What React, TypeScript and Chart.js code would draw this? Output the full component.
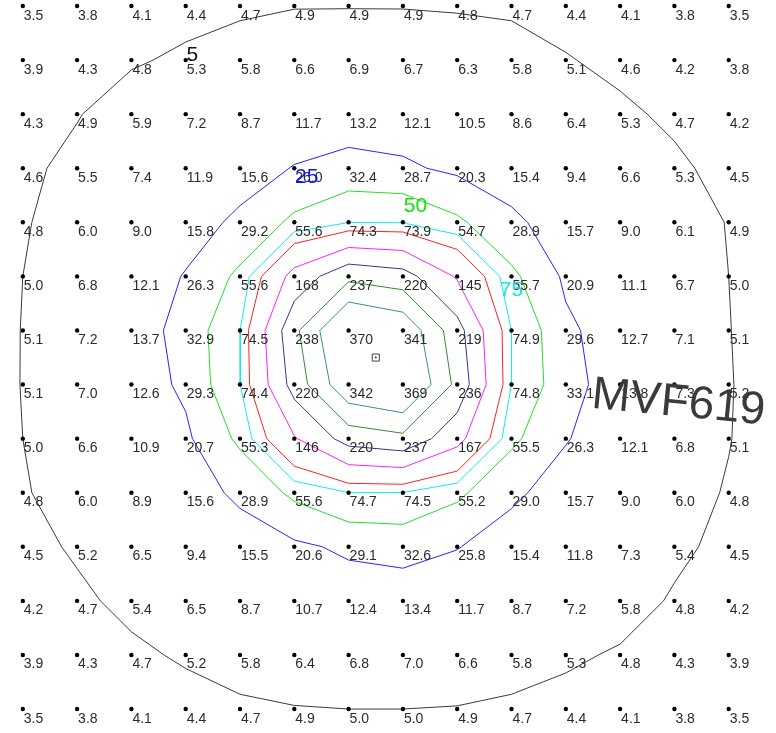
import React, { useEffect, useRef } from 'react';
import { Chart, registerables } from 'chart.js';

Chart.register(...registerables);

// grid values, row by row (top to bottom), 14 columns each
const R0 = [3.5, 3.8, 4.1, 4.4, 4.7, 4.9, 4.9, 4.9, 4.8, 4.7, 4.4, 4.1, 3.8, 3.5];
const R1 = [3.9, 4.3, 4.8, 5.3, 5.8, 6.6, 6.9, 6.7, 6.3, 5.8, 5.1, 4.6, 4.2, 3.8];
const R2 = [4.3, 4.9, 5.9, 7.2, 8.7, 11.7, 13.2, 12.1, 10.5, 8.6, 6.4, 5.3, 4.7, 4.2];
const R3 = [4.6, 5.5, 7.4, 11.9, 15.6, 26.0, 32.4, 28.7, 20.3, 15.4, 9.4, 6.6, 5.3, 4.5];
const R4 = [4.8, 6.0, 9.0, 15.8, 29.2, 55.6, 74.3, 73.9, 54.7, 28.9, 15.7, 9.0, 6.1, 4.9];
const R5 = [5.0, 6.8, 12.1, 26.3, 55.6, 168, 237, 220, 145, 55.7, 20.9, 11.1, 6.7, 5.0];
const R6 = [5.1, 7.2, 13.7, 32.9, 74.5, 238, 370, 341, 219, 74.9, 29.6, 12.7, 7.1, 5.1];
const R7 = [5.1, 7.0, 12.6, 29.3, 74.4, 220, 342, 369, 236, 74.8, 33.1, 13.8, 7.3, 5.2];
const R8 = [5.0, 6.6, 10.9, 20.7, 55.3, 146, 220, 237, 167, 55.5, 26.3, 12.1, 6.8, 5.1];
const R9 = [4.8, 6.0, 8.9, 15.6, 28.9, 55.6, 74.7, 74.5, 55.2, 29.0, 15.7, 9.0, 6.0, 4.8];
const R10 = [4.5, 5.2, 6.5, 9.4, 15.5, 20.6, 29.1, 32.6, 25.8, 15.4, 11.8, 7.3, 5.4, 4.5];
const R11 = [4.2, 4.7, 5.4, 6.5, 8.7, 10.7, 12.4, 13.4, 11.7, 8.7, 7.2, 5.8, 4.8, 4.2];
const R12 = [3.9, 4.3, 4.7, 5.2, 5.8, 6.4, 6.8, 7.0, 6.6, 5.8, 5.3, 4.8, 4.3, 3.9];
const R13 = [3.5, 3.8, 4.1, 4.4, 4.7, 4.9, 5.0, 5.0, 4.9, 4.7, 4.4, 4.1, 3.8, 3.5];
const GRID = [R0, R1, R2, R3, R4, R5, R6, R7, R8, R9, R10, R11, R12, R13];

// contour levels and colours
const CONTOUR_LEVELS = [5, 25, 50, 75, 100, 150, 200, 250, 300];
const CONTOUR_COLORS = ['#3a3a3a', '#2424ff', '#22e022', '#10ecec', '#ff2020', '#ff20ff', '#35358f', '#358a35', '#359090'];

// contour labels (grid column / row positions)
const LABEL_TEXT = ['5', '25', '50', '75'];
const LABEL_COL = [3.12, 5.23, 7.23, 9.0];
const LABEL_ROW = [0.89, 3.15, 3.68, 5.23];
const LABEL_COLORS = ['#111111', '#1010ff', '#10e010', '#10e8e8'];

// well
const WELL_NAME = 'MVF619';
const WELL_COL = [6.5];
const WELL_ROW = [6.5];
const WELL_LABEL_COL = 10.46;
const WELL_LABEL_ROW = 7.43;

type Pt = { x: number; y: number };

function contourPaths(grid: number[][], level: number): Pt[][] {
  const R = grid.length;
  const C = grid[0].length;
  const clamp = (v: number, a: number, b: number) => Math.max(a, Math.min(b, v));
  const val = (r: number, c: number) => {
    if (r >= 0 && r < R && c >= 0 && c < C) return grid[r][c];
    const rc = clamp(r, 0, R - 1);
    const cc = clamp(c, 0, C - 1);
    const ri = r < 0 ? 1 : r >= R ? R - 2 : rc;
    const ci = c < 0 ? 1 : c >= C ? C - 2 : cc;
    return 2 * grid[rc][cc] - grid[ri][ci];
  };
  const pts = new Map<string, Pt>();
  const adj = new Map<string, string[]>();
  const hPt = (r: number, c: number): Pt => {
    const a = val(r, c), b = val(r, c + 1);
    return { x: c + (level - a) / (b - a), y: r };
  };
  const vPt = (r: number, c: number): Pt => {
    const a = val(r, c), b = val(r + 1, c);
    return { x: c, y: r + (level - a) / (b - a) };
  };
  type E = [string, Pt];
  const link = (e1: E, e2: E) => {
    pts.set(e1[0], e1[1]);
    pts.set(e2[0], e2[1]);
    if (!adj.has(e1[0])) adj.set(e1[0], []);
    if (!adj.has(e2[0])) adj.set(e2[0], []);
    adj.get(e1[0])!.push(e2[0]);
    adj.get(e2[0])!.push(e1[0]);
  };
  for (let r = -1; r < R; r++) {
    for (let c = -1; c < C; c++) {
      const tl = val(r, c), tr = val(r, c + 1), br = val(r + 1, c + 1), bl = val(r + 1, c);
      const iTL = tl >= level, iTR = tr >= level, iBR = br >= level, iBL = bl >= level;
      const top: E | null = iTL !== iTR ? [`h${r}_${c}`, hPt(r, c)] : null;
      const right: E | null = iTR !== iBR ? [`v${r}_${c + 1}`, vPt(r, c + 1)] : null;
      const bottom: E | null = iBL !== iBR ? [`h${r + 1}_${c}`, hPt(r + 1, c)] : null;
      const left: E | null = iTL !== iBL ? [`v${r}_${c}`, vPt(r, c)] : null;
      const list = [top, right, bottom, left].filter(Boolean) as E[];
      if (list.length === 2) link(list[0], list[1]);
      else if (list.length === 4) {
        const centerIn = (tl + tr + br + bl) / 4 >= level;
        const cutIn = !centerIn;
        const corners: [boolean, E, E][] = [
          [iTL, left!, top!],
          [iTR, top!, right!],
          [iBR, right!, bottom!],
          [iBL, bottom!, left!],
        ];
        for (const [isIn, a, b] of corners) if (isIn === cutIn) link(a, b);
      }
    }
  }
  const visited = new Set<string>();
  const paths: Pt[][] = [];
  const walk = (start: string) => {
    const path: Pt[] = [pts.get(start)!];
    visited.add(start);
    let cur = start;
    for (;;) {
      const next = (adj.get(cur) || []).find((k) => !visited.has(k));
      if (!next) break;
      visited.add(next);
      path.push(pts.get(next)!);
      cur = next;
    }
    if (path.length > 2 && (adj.get(cur) || []).includes(start)) path.push(pts.get(start)!);
    return path;
  };
  for (const [k, n] of adj) if (n.length === 1 && !visited.has(k)) paths.push(walk(k));
  for (const k of adj.keys()) if (!visited.has(k)) paths.push(walk(k));
  return paths;
}

const fmt = (v: number) => (v >= 100 ? String(Math.round(v)) : v.toFixed(1));

const FONT = '"Liberation Sans", Arial, sans-serif';

const textPlugin = {
  id: 'gridText',
  afterDatasetsDraw(chart: any) {
    const { ctx, scales } = chart;
    const xs = scales.x;
    const ys = scales.y;
    ctx.save();
    ctx.font = `14px ${FONT}`;
    ctx.fillStyle = '#2b2b2b';
    ctx.textAlign = 'left';
    ctx.textBaseline = 'alphabetic';
    GRID.forEach((row, r) =>
      row.forEach((v, c) => {
        const px = xs.getPixelForValue(c);
        const py = ys.getPixelForValue(r);
        ctx.fillText(fmt(v), px + 1, py + 13.5);
      })
    );
    ctx.font = `21px ${FONT}`;
    ctx.textAlign = 'center';
    ctx.textBaseline = 'middle';
    LABEL_TEXT.forEach((t, i) => {
      ctx.fillStyle = LABEL_COLORS[i];
      ctx.fillText(t, xs.getPixelForValue(LABEL_COL[i]), ys.getPixelForValue(LABEL_ROW[i]) + 1);
    });
    ctx.translate(xs.getPixelForValue(WELL_LABEL_COL), ys.getPixelForValue(WELL_LABEL_ROW));
    ctx.rotate((5.5 * Math.PI) / 180);
    ctx.font = `46px ${FONT}`;
    ctx.fillStyle = '#3a3a3a';
    ctx.textAlign = 'left';
    ctx.textBaseline = 'alphabetic';
    ctx.fillText(WELL_NAME, 0, 0);
    ctx.restore();
  },
};

export default function App() {
  const ref = useRef<HTMLCanvasElement | null>(null);
  useEffect(() => {
    document.body.style.margin = '0';
    const canvas = ref.current;
    if (!canvas) return;
    const gridPoints: Pt[] = [];
    GRID.forEach((row, r) => row.forEach((_v, c) => gridPoints.push({ x: c, y: r })));
    const datasets: any[] = [
      {
        data: WELL_COL.map((x, i) => ({ x, y: WELL_ROW[i] })),
        pointStyle: 'circle',
        pointRadius: 1.1,
        backgroundColor: '#444',
        borderWidth: 0,
      },
      {
        data: WELL_COL.map((x, i) => ({ x, y: WELL_ROW[i] })),
        pointStyle: 'rect',
        pointRadius: 5,
        backgroundColor: '#ffffff',
        borderColor: '#444',
        borderWidth: 1,
      },
      {
        data: gridPoints,
        pointStyle: 'circle',
        pointRadius: 2.2,
        backgroundColor: '#000',
        borderWidth: 0,
      },
    ];
    CONTOUR_LEVELS.forEach((lv, i) => {
      contourPaths(GRID, lv).forEach((path) => {
        datasets.push({
          data: path,
          showLine: true,
          pointRadius: 0,
          borderColor: CONTOUR_COLORS[i],
          borderWidth: 1,
          fill: false,
          tension: 0,
        });
      });
    });
    const chart = new Chart(canvas, {
      type: 'scatter',
      data: { datasets },
      options: {
        responsive: false,
        animation: false,
        events: [],
        layout: { padding: 0, autoPadding: false },
        plugins: { legend: { display: false }, tooltip: { enabled: false } },
        scales: {
          x: { type: 'linear', min: -0.42, max: 13.871, display: false },
          y: { type: 'linear', reverse: true, min: -0.111, max: 13.443, display: false },
        },
      },
      plugins: [textPlugin],
    } as any);
    return () => chart.destroy();
  }, []);
  return <canvas ref={ref} width={776} height={733} style={{ display: 'block' }} />;
}
